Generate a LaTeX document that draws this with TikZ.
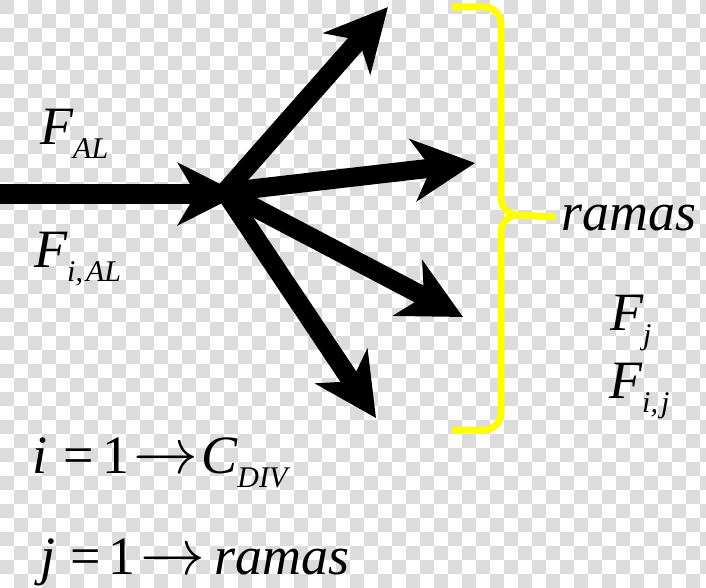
\RequirePackage{fix-cm}
\documentclass[tikz,border=0pt]{standalone}
\usepackage{fontspec}
\setmainfont{Liberation Serif}
\usetikzlibrary{arrows.meta}
\definecolor{checker}{HTML}{DCDCDC}
\definecolor{bracey}{HTML}{FFFF00}
\newcommand{\lowsub}[1]{%
  % subscript: smaller italic, dropped below the baseline.
  \raisebox{-14pt}{\fontsize{30}{32}\selectfont\itshape #1}}
\newcommand{\goesto}{\scalebox{1.2}{$\rightarrow$}}
\tikzset{
  flow/.style={line width=19pt, -{Stealth[length=62pt,width=62pt,inset=18pt]}},
  formula/.style={font=\fontsize{54}{60}\selectfont\itshape, inner sep=0pt, anchor=base west},
  bracepen/.style={draw=bracey, line width=7pt},
}

\begin{document}
\begin{tikzpicture}[x=1pt,y=-1pt]
  \useasboundingbox (0,0) rectangle (706,588);
  \clip (0,0) rectangle (706,588);
  \fill[white] (0,0) rectangle (706,588);
  \foreach \r in {0,2,...,40}{%
    \foreach \c in {0,2,...,50}{%
      \fill[checker] (\c*14,\r*14) rectangle ++(14,14);
      \fill[checker] (\c*14+14,\r*14+14) rectangle ++(14,14);
    }
  }
  % incoming stream and the four branches
  \coordinate (inlet) at (0,194);
  \coordinate (hub) at (240,194);
  \coordinate (fork) at (225,192);
  \coordinate (b1) at (388,7);
  \coordinate (b2) at (475,163);
  \coordinate (b3) at (463,317);
  \coordinate (b4) at (376,418);
  \draw[flow] (inlet) -- (hub);
  \foreach \b in {b1,b2,b3,b4}
    \draw[flow, line cap=round] (fork) -- (\b);
  % brace
  \draw[bracepen] (452,7) -- (484,7) to[out=0,in=90] (501,24) -- (501,198)
    to[out=-90,in=180] (518,215);
  \draw[bracepen] (518,215) to[out=180,in=90] (501,232) -- (501,413)
    to[out=-90,in=0] (484,430) -- (452,430);
  \draw[bracepen, line cap=round] (518,215) -- (553,217);
  % labels
  \node[formula] (fal) at (40,145) {F\lowsub{AL}};
  \node[formula] (fial) at (34,267) {F\lowsub{i,\kern3pt AL}};
  \node[formula] (ramas) at (561,230) {ramas};
  \node[formula] (fj) at (610,330) {F\lowsub{j}};
  \node[formula] (fij) at (609,398) {F\lowsub{i,\kern3pt j}};
  \node[formula] (idef) at (32,473)
    {i\hspace{16pt}{\upshape=}\hspace{9pt}{\upshape 1}\hspace{4pt}\goesto\hspace{3pt}C\lowsub{DIV}};
  \node[formula] (jdef) at (40,574)
    {j\hspace{15pt}{\upshape=}\hspace{8pt}{\upshape 1}\hspace{5pt}\goesto\hspace{9pt}ramas};
\end{tikzpicture}
\end{document}
